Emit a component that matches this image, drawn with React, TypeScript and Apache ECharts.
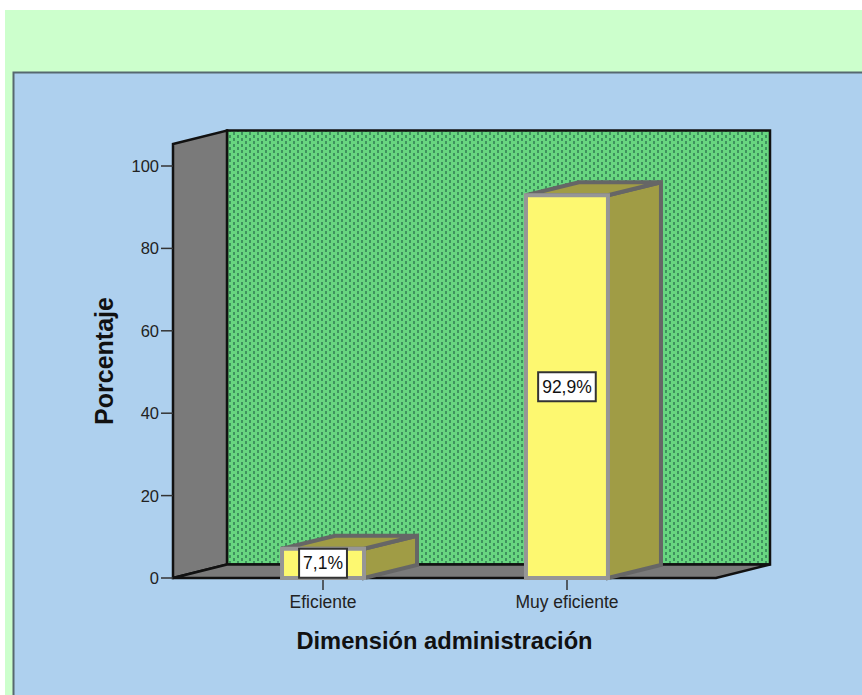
import React, { useEffect, useRef } from "react";
import * as echarts from "echarts";

const categories = ["Eficiente", "Muy eficiente"];
const percentages = [7.1, 92.9];
const yTicks = [0, 20, 40, 60, 80, 100];
const xTicks = [0, 1];

const FONT = '"Liberation Sans", Arial, sans-serif';
const DEPTH_X = 54;
const DEPTH_Y = -13.5;
const BAR_HALF = 41;
const DEPTH_BAR_X = 53;
const DEPTH_BAR_Y = -13;
const TICK_LENGTH = 12;

// Staggered vertical dashes for the back wall of the 3D frame.
function dotTile(): HTMLCanvasElement {
  const c = document.createElement("canvas");
  c.width = 8;
  c.height = 6;
  const g = c.getContext("2d")!;
  g.fillStyle = "#68d680";
  g.fillRect(0, 0, 8, 6);
  g.fillStyle = "#3f925e";
  g.fillRect(1, 0, 2, 3);
  g.fillRect(5, 3, 2, 3);
  return c;
}

const percentLabel = (v: number) => v.toFixed(1).replace(".", ",") + "%";

export default function App() {
  const ref = useRef<HTMLDivElement>(null);

  useEffect(() => {
    document.body.style.margin = "0";
    const chart = echarts.init(ref.current!, undefined, { renderer: "svg" });
    const tile = dotTile();

    const xMin = -0.615;
    const xMax = 1.611;
    const yMax = 105.34;

    const frame = (_: any, api: any) => {
      const a = api.coord([xMin, 0]);
      const b = api.coord([xMax, 0]);
      const c = api.coord([xMax, yMax]);
      const d = api.coord([xMin, yMax]);
      const back = (p: number[]) => [p[0] + DEPTH_X, p[1] + DEPTH_Y];
      const edge = { stroke: "#111", lineWidth: 2.5, lineJoin: "miter" };
      const ticks = yTicks.map((t) => {
        const p = api.coord([xMin, t]);
        return {
          type: "line",
          shape: { x1: p[0] - TICK_LENGTH, y1: p[1], x2: p[0], y2: p[1] },
          style: { stroke: "#333", lineWidth: 1.5 },
        };
      });
      return {
        type: "group",
        children: [
          {
            type: "polygon",
            shape: { points: [back(a), back(b), back(c), back(d)] },
            style: { fill: { image: tile, repeat: "repeat" }, ...edge },
          },
          {
            type: "polygon",
            shape: { points: [a, back(a), back(d), d] },
            style: { fill: "#7a7a7a", ...edge },
          },
          {
            type: "polygon",
            shape: { points: [a, b, back(b), back(a)] },
            style: { fill: "#7a7a7a", ...edge },
          },
          ...ticks,
        ],
      };
    };

    const bar = (_: any, api: any) => {
      const base = api.coord([api.value(0), 0]);
      const top = api.coord([api.value(0), api.value(1)]);
      const l = base[0] - BAR_HALF;
      const r = base[0] + BAR_HALF;
      const y0 = base[1];
      const y1 = top[1];
      const dx = DEPTH_BAR_X;
      const dy = DEPTH_BAR_Y;
      const dark = { stroke: "#666666", lineWidth: 4, lineJoin: "miter" };
      return {
        type: "group",
        children: [
          {
            type: "polygon",
            shape: { points: [[r, y0], [r + dx, y0 + dy], [r + dx, y1 + dy], [r, y1]] },
            style: { fill: "#a09c45", ...dark },
          },
          {
            type: "polygon",
            shape: { points: [[l, y1], [l + dx, y1 + dy], [r + dx, y1 + dy], [r, y1]] },
            style: { fill: "#a09c45", ...dark },
          },
          {
            type: "rect",
            shape: { x: l, y: y1, width: r - l, height: y0 - y1 },
            style: { fill: "#fdf870", stroke: "#969696", lineWidth: 4 },
          },
          {
            type: "text",
            x: base[0],
            y: (y0 + y1) / 2,
            style: {
              text: percentLabel(api.value(1)),
              font: `17.5px ${FONT}`,
              fill: "#111",
              align: "center",
              verticalAlign: "middle",
              backgroundColor: "#ffffff",
              borderColor: "#333333",
              borderWidth: 2,
              padding: [5, 3, 4, 3],
            },
          },
        ],
      };
    };

    chart.setOption({
      animation: false,
      backgroundColor: "#ffffff",
      graphic: [
        {
          type: "rect",
          z: -20,
          shape: { x: 5, y: 10, width: 857, height: 685 },
          style: { fill: "#ccffcc" },
        },
        {
          type: "rect",
          z: -19,
          shape: { x: 13.5, y: 72.5, width: 860, height: 640 },
          style: { fill: "#aed0ee", stroke: "#57686f", lineWidth: 2 },
        },
      ],
      grid: { left: 173, top: 144, width: 543, height: 434 },
      xAxis: {
        type: "value",
        min: xMin,
        max: xMax,
        name: "Dimensión administración",
        nameLocation: "middle",
        nameGap: 51,
        nameTextStyle: { fontFamily: FONT, fontWeight: "bold", fontSize: 23.7, color: "#111" },
        splitLine: { show: false },
        axisLine: { show: false },
        axisTick: { show: true, length: TICK_LENGTH, customValues: xTicks, lineStyle: { color: "#333", width: 1.5 } },
        axisLabel: {
          customValues: xTicks,
          margin: 15,
          fontFamily: FONT,
          fontSize: 17.5,
          color: "#222",
          formatter: (v: number) => categories[v] ?? "",
        },
      },
      yAxis: {
        type: "value",
        min: 0,
        max: yMax,
        name: "Porcentaje",
        nameLocation: "middle",
        nameGap: 57,
        nameRotate: 90,
        nameTextStyle: { fontFamily: FONT, fontWeight: "bold", fontSize: 25, color: "#111" },
        splitLine: { show: false },
        axisLine: { show: false },
        axisTick: { show: false },
        axisLabel: {
          customValues: yTicks,
          margin: 14,
          fontFamily: FONT,
          fontSize: 16.5,
          color: "#222",
        },
      },
      series: [
        {
          type: "custom",
          z: 1,
          clip: false,
          silent: true,
          coordinateSystem: "cartesian2d",
          data: [[0, 0]],
          renderItem: frame,
        },
        {
          type: "custom",
          z: 3,
          clip: false,
          silent: true,
          coordinateSystem: "cartesian2d",
          data: percentages.map((v, i) => [i, v]),
          encode: { x: 0, y: 1 },
          renderItem: bar,
        },
      ],
    });
    return () => chart.dispose();
  }, []);

  return <div ref={ref} style={{ position: "absolute", left: 0, top: 0, width: 862, height: 695 }} />;
}
